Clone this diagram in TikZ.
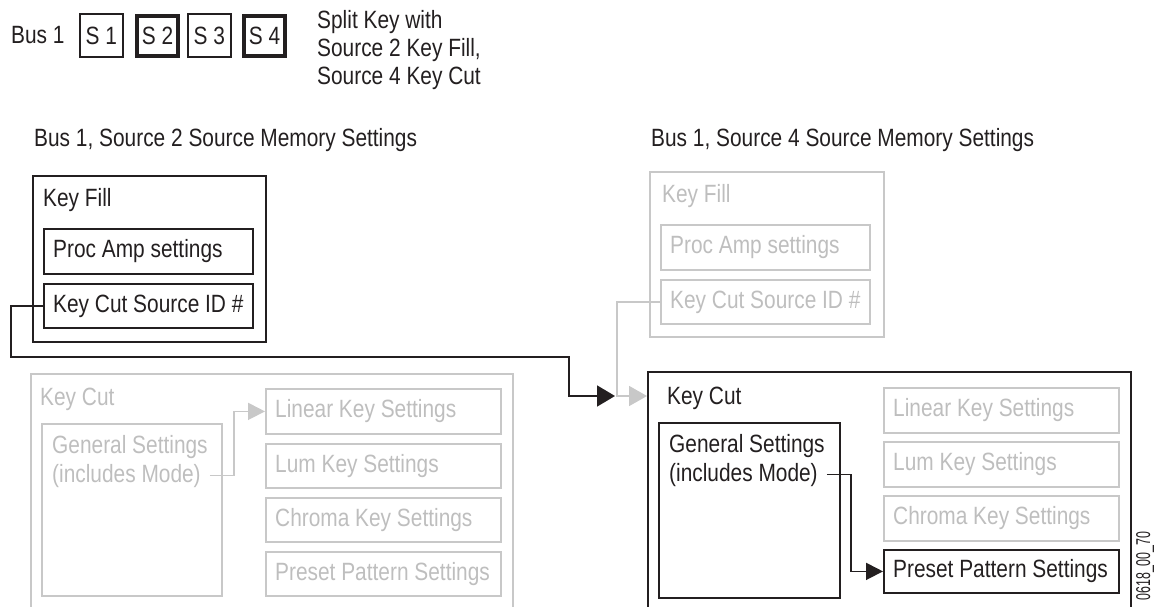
\documentclass[tikz,border=0pt]{standalone}
\usepackage{fontspec}
\setmainfont{Liberation Sans}[FakeStretch=0.835]
\newfontfamily\narrowf{Liberation Sans}[FakeStretch=0.62]
\usetikzlibrary{arrows.meta}
\definecolor{ink}{RGB}{35,31,32}
\definecolor{lg}{RGB}{200,200,200}
\definecolor{gt}{RGB}{190,190,190}
\begin{document}
\begin{tikzpicture}[x=1pt,y=-1pt,
  every node/.style={font=\fontsize{25}{29}\selectfont, inner sep=0pt, text=ink},
  txt/.style={anchor=base west, text height=17.9pt, text depth=5pt},
  gtxt/.style={txt, text=gt},
  lbl/.style={anchor=west, xshift=10pt, text height=17.9pt, text depth=5pt},
  glbl/.style={lbl, text=gt},
  tb/.style n args={3}{draw=ink, line width=1.8pt, anchor=north west, minimum width=#1, minimum height=#2, label={[lbl]west:#3}},
  gtb/.style n args={3}{draw=lg, line width=1.8pt, anchor=north west, minimum width=#1, minimum height=#2, label={[glbl]west:#3}},
  panel/.style={draw=ink, line width=1.8pt, anchor=north west},
  gpanel/.style={panel, draw=lg},
  sbx/.style={draw=ink, line width=1.8pt, anchor=north west, minimum width=43pt, minimum height=43pt, text height=17.9pt, text depth=0pt},
  sbxk/.style={sbx, line width=4pt, minimum width=41pt, minimum height=40pt},
  karrow/.style={draw=ink, line width=1.8pt, -{Triangle[length=18pt,width=21pt]}},
  garrow/.style={draw=lg, line width=1.8pt, -{Triangle[length=18pt,width=20pt]}},
  ksmall/.style={draw=ink, line width=1.8pt, -{Triangle[length=17pt,width=17pt]}},
  gsmall/.style={draw=lg, line width=1.8pt, -{Triangle[length=17pt,width=17pt]}}
]
\useasboundingbox (0,0) rectangle (1157,607);
\clip (0,0) rectangle (1157,607);

% top row
\node[txt] (bus) at (11,44) {Bus 1};
\node[sbx] (s1) at (79,13) {S 1};
\node[sbxk] (s2) at (135,14) {S 2};
\node[sbx] (s3) at (187,13) {S 3};
\node[sbxk] (s4) at (242,14) {S 4};
\node[txt] (sp1) at (317,29) {Split Key with};
\node[txt] (sp2) at (317,57) {Source 2 Key Fill,};
\node[txt] (sp3) at (317,85) {Source 4 Key Cut};

% headings
\node[txt] (h1) at (34,147) {Bus 1, Source 2 Source Memory Settings};
\node[txt] (h2) at (651,147) {Bus 1, Source 4 Source Memory Settings};

% left key fill
\node[panel, minimum width=233pt, minimum height=166pt] (kfL) at (32,175) {};
\node[txt] (kfLt) at (43,207) {Key Fill};
\node[tb={209pt}{45pt}{Proc Amp settings}] (paL) at (43,228) {};
\node[tb={209pt}{44pt}{Key Cut Source ID \#}] (kcidL) at (43,283) {};

% right key fill (gray)
\node[gpanel, minimum width=234pt, minimum height=165pt] (kfR) at (649,171) {};
\node[gtxt] (kfRt) at (662,203) {Key Fill};
\node[gtb={209pt}{45pt}{Proc Amp settings}] (paR) at (660,224) {};
\node[gtb={209pt}{44pt}{Key Cut Source ID \#}] (kcidR) at (660,279) {};

% left key cut (gray)
\node[gpanel, minimum width=482pt, minimum height=280pt] (kcL) at (30,373) {};
\node[gtxt] (kcLt) at (40,405) {Key Cut};
\node[gpanel, minimum width=180pt, minimum height=172pt] (gsL) at (41,423) {};
\node[gtxt] (gsL1) at (52,453) {General Settings};
\node[gtxt] (gsL2) at (52,482) {(includes Mode)};
\node[gtb={235pt}{45pt}{Linear Key Settings}] (linL) at (265,388) {};
\node[gtb={235pt}{44pt}{Lum Key Settings}] (lumL) at (265,443) {};
\node[gtb={235pt}{44pt}{Chroma Key Settings}] (chrL) at (265,497) {};
\node[gtb={235pt}{44pt}{Preset Pattern Settings}] (preL) at (265,551) {};

% right key cut
\node[panel, minimum width=483pt, minimum height=280pt] (kcR) at (647,371) {};
\node[txt] (kcRt) at (667,404) {Key Cut};
\node[panel, minimum width=181pt, minimum height=175pt] (gsR) at (658,422) {};
\node[txt] (gsR1) at (669,452) {General Settings};
\node[txt] (gsR2) at (669,481) {(includes Mode)};
\node[gtb={235pt}{45pt}{Linear Key Settings}] (linR) at (883,387) {};
\node[gtb={235pt}{45pt}{Lum Key Settings}] (lumR) at (883,441) {};
\node[gtb={235pt}{45pt}{Chroma Key Settings}] (chrR) at (883,495) {};
\node[tb={235pt}{43pt}{Preset Pattern Settings}] (preR) at (883,549) {};

% figure code
\node[rotate=90, font=\narrowf\fontsize{20}{22}\selectfont] (code) at (1145,566) {0618\_00\_70};

% connectors
\coordinate (kbend) at (569,357);
\coordinate (ktip) at (615,396);
\coordinate (gbend) at (617,396);
\draw[karrow] (kcidL.west) -- ++(-32,0) |- (kbend) |- (ktip);
\draw[garrow] (kcidR.west) -| (gbend) -- (kcR.west |- gbend);
\draw[gsmall] ([xshift=9pt]gsL2.east) -- ++(24,0) |- (linL.west);
\draw[ksmall] ([xshift=9pt]gsR2.east) -- ++(24,0) |- (preR.west);
\end{tikzpicture}
\end{document}
